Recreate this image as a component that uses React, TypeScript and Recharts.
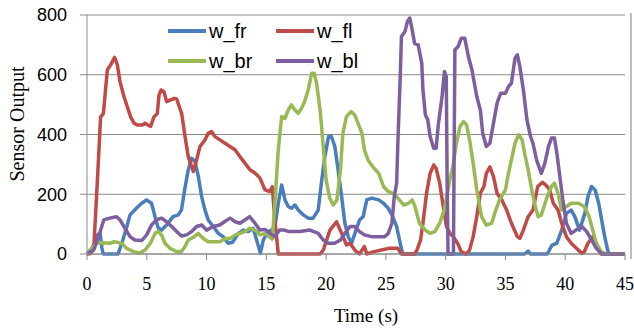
import React from 'react';
import { LineChart, Line, XAxis, YAxis, CartesianGrid } from 'recharts';

// time (s), sensor output
const wFr: [number, number][] = [
  [0, 0], [0.3, 5], [0.6, 30], [0.9, 65], [1.09, 70], [1.25, 20], [1.35, 0], [2.6, 0], [3.0, 47], [3.3, 87],
  [3.6, 131], [4.15, 154], [4.57, 170], [4.98, 181], [5.4, 170], [5.69, 125], [5.96, 87], [6.24, 80], [6.66, 97],
  [7.2, 125], [7.63, 131], [7.9, 147], [8.19, 220], [8.47, 282], [8.75, 320], [9.03, 310], [9.31, 260], [9.59, 192],
  [9.87, 147], [10.14, 114], [10.56, 92], [10.98, 69], [11.4, 58], [11.8, 36], [12.2, 40], [12.66, 69], [13.07, 80],
  [13.49, 75], [13.9, 86], [14.19, 47], [14.5, 3], [14.75, 47], [15.16, 75], [15.44, 80], [15.72, 92], [16.0, 170],
  [16.28, 231], [16.56, 181], [16.83, 159], [17.1, 153], [17.39, 164], [17.67, 147], [18.09, 131], [18.5, 120],
  [18.92, 120], [19.34, 147], [19.6, 237], [19.9, 326], [20.2, 393], [20.45, 393], [20.73, 360], [21.0, 282],
  [21.3, 192], [21.57, 103], [21.85, 58], [22.13, 36], [22.5, 80], [22.8, 114], [23.1, 125], [23.4, 181],
  [23.8, 187], [24.4, 181], [24.8, 170], [25.2, 153], [25.5, 131], [25.9, 92], [26.2, 36], [26.4, 0], [36.6, 0],
  [36.9, 10], [37.1, 0], [38.5, 0], [38.9, 30], [39.3, 36], [39.7, 80], [40.1, 136], [40.5, 147], [40.8, 125],
  [41.2, 80], [41.64, 136], [41.9, 192], [42.2, 226], [42.5, 214], [42.8, 170], [43.0, 125], [43.3, 58], [43.6, 5],
  [43.8, 0], [45, 0],
];

const wFl: [number, number][] = [
  [0, 0], [0.3, 2], [0.59, 37], [0.86, 238], [1.14, 459], [1.37, 470], [1.7, 616], [1.98, 633], [2.31, 658],
  [2.54, 633], [2.76, 577], [3.09, 527], [3.37, 493], [3.65, 459], [3.93, 438], [4.21, 432], [4.63, 432],
  [4.85, 438], [5.1, 432], [5.32, 427], [5.6, 459], [5.88, 470], [6.02, 532], [6.2, 549], [6.44, 543], [6.66, 510],
  [7.0, 516], [7.3, 521], [7.5, 519], [7.92, 470], [8.2, 393], [8.47, 326], [8.89, 276], [9.17, 315], [9.45, 360],
  [9.87, 382], [10.14, 404], [10.42, 410], [10.7, 393], [11.12, 382], [11.54, 371], [11.96, 360], [12.38, 349],
  [12.79, 326], [13.21, 304], [13.63, 282], [14.05, 271], [14.47, 254], [14.88, 215], [15.3, 209], [15.5, 225],
  [15.7, 120], [16.0, 0], [19.5, 0], [19.76, 13], [20.32, 80], [20.87, 108], [21.3, 69], [21.71, 30], [22.0, 36],
  [22.4, 13], [22.8, 0], [23.2, 25], [23.4, 0], [24.0, 8], [25.3, 19], [26.0, 19], [26.3, 0], [27.4, 0],
  [27.6, 13], [27.9, 47], [28.1, 103], [28.4, 203], [28.7, 270], [29.0, 298], [29.2, 287], [29.5, 237],
  [29.8, 159], [30.07, 92], [30.35, 69], [30.6, 60], [31.0, 36], [31.3, 8], [31.7, 0], [32.0, 13], [32.3, 58],
  [32.6, 125], [32.9, 203], [33.2, 226], [33.4, 270], [33.7, 292], [34.0, 259], [34.3, 203], [34.7, 181],
  [35.1, 147], [35.5, 103], [36.0, 58], [36.2, 52], [36.5, 80], [36.9, 125], [37.3, 147], [37.7, 226], [38.1, 240],
  [38.4, 230], [38.7, 215], [39.0, 170], [39.4, 147], [39.7, 103], [40.1, 58], [40.5, 36], [40.94, 19], [41.4, 2],
  [41.6, 8], [41.9, 36], [42.3, 58], [42.6, 36], [43.0, 0], [45, 0],
];

const wBr: [number, number][] = [
  [0, 0], [0.24, 13], [0.79, 36], [1.35, 38], [1.9, 36], [2.3, 41], [2.9, 36], [3.3, 19], [3.9, 8], [4.43, 3],
  [4.85, 13], [5.3, 36], [5.69, 69], [5.96, 75], [6.24, 64], [6.52, 36], [6.94, 19], [7.5, 8], [7.9, 8], [8.2, 25],
  [8.47, 47], [8.9, 56], [9.3, 69], [9.73, 52], [10.14, 41], [10.56, 41], [11.1, 41], [11.54, 52], [11.96, 52],
  [12.4, 64], [12.8, 69], [13.2, 75], [13.6, 86], [14.05, 80], [14.47, 64], [14.9, 69], [15.3, 56], [15.5, 50],
  [15.75, 190], [16.0, 349], [16.28, 460], [16.56, 454], [16.83, 482], [17.1, 499], [17.39, 482], [17.67, 471],
  [17.95, 488], [18.2, 510], [18.5, 549], [18.8, 605], [19.0, 605], [19.2, 572], [19.5, 482], [19.76, 360],
  [20.0, 248], [20.3, 187], [20.6, 164], [20.9, 181], [21.2, 282], [21.4, 404], [21.7, 460], [22.1, 477],
  [22.4, 465], [22.7, 435], [23.0, 404], [23.2, 349], [23.5, 315], [23.9, 292], [24.4, 270], [24.8, 226],
  [25.2, 209], [25.6, 203], [26.0, 187], [26.5, 164], [26.9, 170], [27.2, 181], [27.4, 164], [27.8, 103],
  [28.3, 80], [28.7, 69], [29.1, 75], [29.5, 103], [29.9, 150], [30.35, 248], [30.6, 293], [30.9, 370],
  [31.2, 427], [31.5, 443], [31.75, 432], [32.0, 382], [32.3, 304], [32.6, 215], [33.0, 125], [33.4, 97],
  [33.85, 103], [34.1, 136], [34.5, 181], [35.0, 215], [35.2, 259], [35.5, 315], [35.8, 371], [36.1, 399],
  [36.4, 382], [36.6, 338], [36.9, 282], [37.2, 215], [37.5, 159], [37.74, 125], [38.0, 131], [38.4, 181],
  [38.85, 226], [39.1, 237], [39.4, 203], [39.7, 147], [40.1, 159], [40.5, 170], [41.1, 170], [41.6, 159],
  [42.0, 125], [42.3, 80], [42.6, 36], [43.0, 8], [43.4, 0], [45, 0],
];

const wBl: [number, number][] = [
  [0, 0], [0.56, 13], [0.97, 58], [1.4, 114], [1.9, 120], [2.48, 125], [2.76, 114], [3.18, 86], [3.6, 58],
  [4.0, 47], [4.57, 45], [4.99, 64], [5.4, 97], [5.8, 114], [6.24, 120], [6.66, 108], [7.08, 92], [7.5, 75],
  [7.9, 60], [8.33, 64], [8.75, 75], [9.17, 92], [9.6, 97], [10.0, 80], [10.56, 92], [11.1, 97], [11.5, 108],
  [11.96, 120], [12.4, 108], [12.8, 103], [13.2, 114], [13.6, 125], [14.05, 103], [14.47, 80], [14.9, 82],
  [15.3, 69], [15.7, 58], [16.1, 80], [16.5, 80], [16.9, 75], [17.8, 75], [18.65, 80], [19.34, 69], [19.76, 47],
  [20.2, 36], [20.7, 36], [21.2, 47], [21.57, 69], [22.0, 92], [22.4, 92], [22.8, 75], [23.2, 64], [23.8, 58],
  [24.4, 58], [24.9, 58], [25.2, 69], [25.5, 103], [25.7, 192], [25.9, 237], [26.0, 371], [26.2, 594], [26.3, 728],
  [26.6, 745], [26.8, 778], [27.0, 790], [27.2, 750], [27.4, 705], [27.7, 700], [28.0, 639], [28.1, 549],
  [28.3, 466], [28.5, 449], [28.7, 393], [29.0, 354], [29.2, 354], [29.4, 438], [29.7, 527], [29.9, 611],
  [30.05, 594], [30.12, 259], [30.2, 0], [30.65, 0], [30.77, 683], [31.05, 695], [31.3, 722], [31.6, 722],
  [31.9, 661], [32.2, 616], [32.6, 527], [32.9, 482], [33.1, 404], [33.4, 360], [33.7, 371], [34.0, 438],
  [34.3, 505], [34.6, 538], [35.0, 538], [35.25, 560], [35.5, 572], [35.8, 655], [36.0, 667], [36.2, 628],
  [36.5, 549], [36.8, 449], [37.1, 393], [37.3, 371], [37.6, 315], [38.0, 270], [38.3, 304], [38.6, 360],
  [38.85, 388], [39.1, 388], [39.3, 338], [39.55, 259], [39.8, 181], [40.1, 103], [40.5, 69], [40.9, 80],
  [41.4, 92], [41.8, 75], [42.2, 47], [42.6, 19], [43.0, 2], [43.3, 0], [45, 0],
];

const xTicks = [0, 5, 10, 15, 20, 25, 30, 35, 40, 45];
const yTicks = [0, 200, 400, 600, 800];

const series = [
  { name: 'w_fr', points: wFr, color: '#4a7ebb' },
  { name: 'w_fl', points: wFl, color: '#be4b48' },
  { name: 'w_br', points: wBr, color: '#98b954' },
  { name: 'w_bl', points: wBl, color: '#7d5fa0' },
];

const toRows = (pts: [number, number][]) => pts.map(([t, v]) => ({ t, v }));

const serif = '"Liberation Serif", "Times New Roman", serif';
const sans = '"Liberation Sans", Arial, sans-serif';

const LegendBox = () => (
  <div style={{ position: 'absolute', left: 168, top: 19, width: 240, display: 'grid', gridTemplateColumns: '108px 120px', rowGap: 6, fontFamily: sans, fontSize: 20, color: '#000' }}>
    {series.map((s) => (
      <div key={s.name} style={{ display: 'flex', alignItems: 'center', height: 24 }}>
        <svg width={38} height={6} style={{ marginRight: 3 }}>
          <line x1={0} y1={3} x2={38} y2={3} stroke={s.color} strokeWidth={4} />
        </svg>
        <span>{s.name}</span>
      </div>
    ))}
  </div>
);

const App = () => {
  return (
    <div style={{ position: 'absolute', left: 0, top: 0, width: 634, height: 328, background: '#fff' }}>
      <LineChart width={634} height={328} margin={{ top: 15, right: 9, bottom: 0, left: 0 }}>
        <CartesianGrid vertical={false} stroke='#8a8a8a' />
        <XAxis
          type='number'
          dataKey='t'
          domain={[0, 45]}
          ticks={xTicks}
          height={74}
          tickSize={6}
          tickMargin={17}
          stroke='#8a8a8a'
          tick={{ fill: '#000', fontFamily: serif, fontSize: 18 }}
          label={{
            content: () => (
              <text x={366} y={322} textAnchor='middle' fontFamily={serif} fontSize={19} fill='#000'>Time (s)</text>
            ),
          }}
        />
        <YAxis
          type='number'
          domain={[0, 800]}
          ticks={yTicks}
          width={87}
          tickSize={7}
          tickMargin={13}
          stroke='#8a8a8a'
          tick={{ fill: '#000', fontFamily: sans, fontSize: 18 }}
          label={{
            content: () => (
              <text x={17} y={124} transform='rotate(-90 17 124)' textAnchor='middle' dominantBaseline='central' fontFamily={serif} fontSize={20} fill='#000'>Sensor Output</text>
            ),
          }}
        />
        {series.map((s) => (
          <Line
            key={s.name}
            data={toRows(s.points)}
            dataKey='v'
            name={s.name}
            type='linear'
            stroke={s.color}
            strokeWidth={3.5}
            strokeLinejoin='round'
            dot={false}
            isAnimationActive={false}
          />
        ))}
      </LineChart>
      <div style={{ position: 'absolute', left: 630, top: 13, width: 2, height: 246, background: '#bdbdbd' }} />
      <LegendBox />
    </div>
  );
};

export default App;
